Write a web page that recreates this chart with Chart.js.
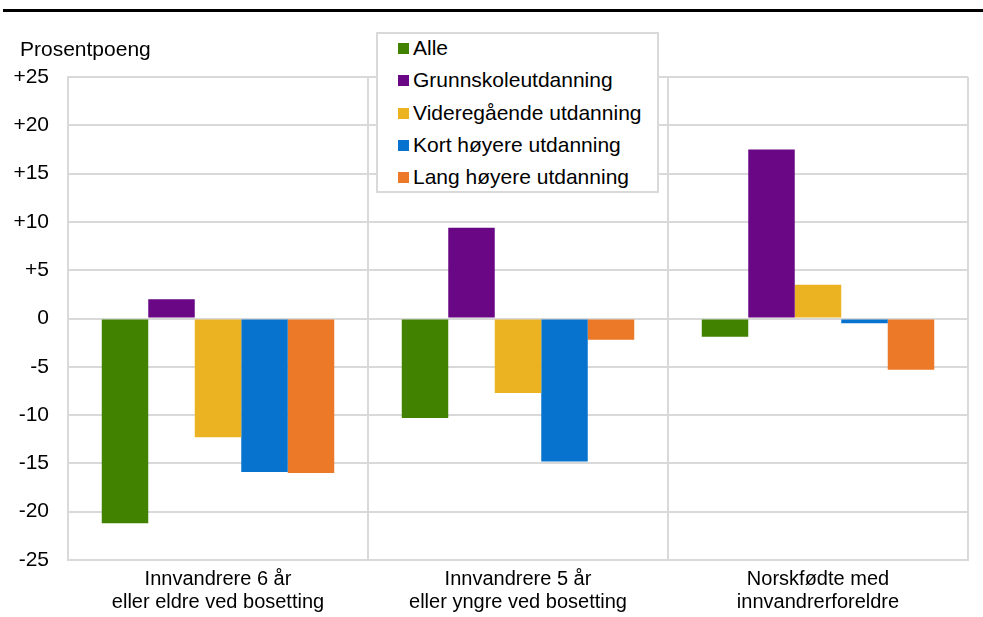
<!DOCTYPE html>
<html>
<head>
<meta charset="utf-8">
<script src="https://cdn.jsdelivr.net/npm/chart.js@4"></script>
<style>
  body { margin: 0; background: #fff; }
  #wrap { position: relative; width: 983px; height: 617px; }
  #legend {
    position: absolute; left: 376px; top: 32px; width: 279px; height: 157px;
    border: 2px solid #d9d9d9; background: #fff;
    font: 21px "Liberation Sans", Arial, sans-serif; color: #000;
  }
  #legend div { position: absolute; left: 20px; height: 24px; line-height: 24px; white-space: nowrap; }
  #legend span { display: inline-block; width: 11px; height: 11px; margin-right: 4px; vertical-align: 1px; }
</style>
</head>
<body>
<div id="wrap">
  <canvas id="myChart" width="983" height="617"></canvas>
  <div id="legend"></div>
</div>
<script>
const categories = [
  ["Innvandrere 6 år", "eller eldre ved bosetting"],
  ["Innvandrere 5 år", "eller yngre ved bosetting"],
  ["Norskfødte med", "innvandrerforeldre"],
];
const seriesNames = [
  "Alle",
  "Grunnskoleutdanning",
  "Videregående utdanning",
  "Kort høyere utdanning",
  "Lang høyere utdanning",
];
const seriesColors = ["#418200", "#6a0784", "#ebb321", "#0873ce", "#eb7927"];

const alle = [-21.2, -10.3, -1.9];
const grunnskole = [2.0, 9.4, 17.5];
const videregaende = [-12.3, -7.7, 3.5];
const kortHoyere = [-15.9, -14.8, -0.5];
const langHoyere = [-16.0, -2.2, -5.3];
const seriesValues = [alle, grunnskole, videregaende, kortHoyere, langHoyere];

const yTicks = [25, 20, 15, 10, 5, 0, -5, -10, -15, -20, -25];

const font = "'Liberation Sans', Arial, sans-serif";
let ctx = document.querySelector("#myChart");

// tykk strek øverst og aksetittel
const extras = {
  id: "extras",
  afterDraw(chart) {
    const c = chart.ctx;
    c.save();
    c.fillStyle = "#000";
    c.fillRect(3, 9, 980, 3);
    c.font = "21px " + font;
    c.textBaseline = "middle";
    c.fillText("Prosentpoeng", 20, 50);
    c.restore();
  },
};

new Chart(ctx, {
  type: "bar",
  data: {
    labels: categories,
    datasets: seriesNames.map((name, i) => ({
      label: name,
      data: seriesValues[i],
      backgroundColor: seriesColors[i],
      barPercentage: 1,
      categoryPercentage: 0.775,
    })),
  },
  options: {
    responsive: false,
    animation: false,
    layout: { padding: { left: 0, right: 15, top: 77, bottom: 0 } },
    plugins: { legend: { display: false }, tooltip: { enabled: false } },
    scales: {
      x: {
        afterFit: (s) => { s.height = 57; },
        grid: { color: "#d9d9d9", lineWidth: 2, offset: true, drawTicks: false },
        border: { color: "#d9d9d9", width: 2 },
        ticks: { color: "#000", font: { size: 20, family: font, lineHeight: 1.15 }, padding: 8 },
      },
      y: {
        min: -25,
        max: 25,
        afterFit: (s) => { s.width = 68; },
        afterBuildTicks: (s) => { s.ticks = yTicks.map((v) => ({ value: v })); },
        grid: { color: "#d9d9d9", lineWidth: 2, drawTicks: false },
        border: { color: "#d9d9d9", width: 2 },
        ticks: {
          color: "#000",
          font: { size: 21, family: font },
          padding: 19,
          callback: (v) => (v > 0 ? "+" + v : String(v)),
        },
      },
    },
  },
  plugins: [extras],
});

// forklaring inne i plottet
const legend = document.querySelector("#legend");
seriesNames.forEach((name, i) => {
  const row = document.createElement("div");
  row.style.top = 2 + i * 32.3 + "px";
  row.innerHTML = `<span style="background:${seriesColors[i]}"></span>${name}`;
  legend.appendChild(row);
});
</script>
</body>
</html>
